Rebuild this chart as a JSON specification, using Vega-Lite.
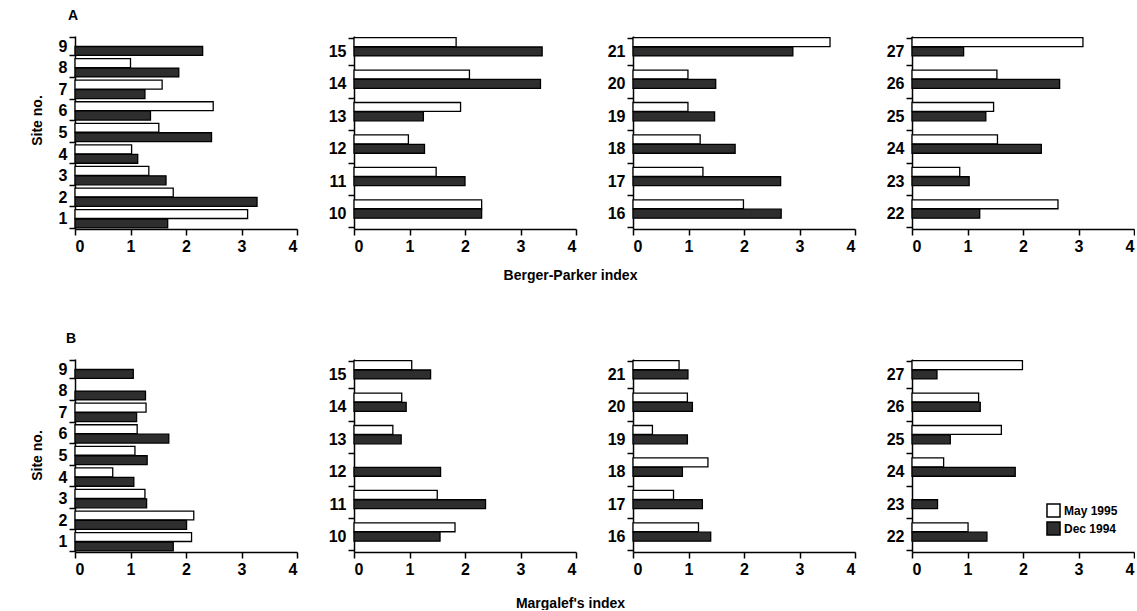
{
  "$schema": "https://vega.github.io/schema/vega-lite/v6.json",
  "padding": {"left": 30, "top": 9, "right": 0, "bottom": 0},
  "background": "white",
  "datasets": {
    "d": [
      {"idx": "BP", "panel": 1, "site": 9, "period": "Dec 1994", "v": 2.30},
      {"idx": "BP", "panel": 1, "site": 8, "period": "May 1995", "v": 1.00},
      {"idx": "BP", "panel": 1, "site": 8, "period": "Dec 1994", "v": 1.87},
      {"idx": "BP", "panel": 1, "site": 7, "period": "May 1995", "v": 1.57},
      {"idx": "BP", "panel": 1, "site": 7, "period": "Dec 1994", "v": 1.26},
      {"idx": "BP", "panel": 1, "site": 6, "period": "May 1995", "v": 2.49},
      {"idx": "BP", "panel": 1, "site": 6, "period": "Dec 1994", "v": 1.36},
      {"idx": "BP", "panel": 1, "site": 5, "period": "May 1995", "v": 1.51},
      {"idx": "BP", "panel": 1, "site": 5, "period": "Dec 1994", "v": 2.46},
      {"idx": "BP", "panel": 1, "site": 4, "period": "May 1995", "v": 1.02},
      {"idx": "BP", "panel": 1, "site": 4, "period": "Dec 1994", "v": 1.13},
      {"idx": "BP", "panel": 1, "site": 3, "period": "May 1995", "v": 1.33},
      {"idx": "BP", "panel": 1, "site": 3, "period": "Dec 1994", "v": 1.64},
      {"idx": "BP", "panel": 1, "site": 2, "period": "May 1995", "v": 1.77},
      {"idx": "BP", "panel": 1, "site": 2, "period": "Dec 1994", "v": 3.28},
      {"idx": "BP", "panel": 1, "site": 1, "period": "May 1995", "v": 3.11},
      {"idx": "BP", "panel": 1, "site": 1, "period": "Dec 1994", "v": 1.67},
      {"idx": "BP", "panel": 2, "site": 15, "period": "May 1995", "v": 1.84},
      {"idx": "BP", "panel": 2, "site": 15, "period": "Dec 1994", "v": 3.39},
      {"idx": "BP", "panel": 2, "site": 14, "period": "May 1995", "v": 2.08},
      {"idx": "BP", "panel": 2, "site": 14, "period": "Dec 1994", "v": 3.36},
      {"idx": "BP", "panel": 2, "site": 13, "period": "May 1995", "v": 1.92},
      {"idx": "BP", "panel": 2, "site": 13, "period": "Dec 1994", "v": 1.25},
      {"idx": "BP", "panel": 2, "site": 12, "period": "May 1995", "v": 0.98},
      {"idx": "BP", "panel": 2, "site": 12, "period": "Dec 1994", "v": 1.27},
      {"idx": "BP", "panel": 2, "site": 11, "period": "May 1995", "v": 1.48},
      {"idx": "BP", "panel": 2, "site": 11, "period": "Dec 1994", "v": 2.00},
      {"idx": "BP", "panel": 2, "site": 10, "period": "May 1995", "v": 2.30},
      {"idx": "BP", "panel": 2, "site": 10, "period": "Dec 1994", "v": 2.30},
      {"idx": "BP", "panel": 3, "site": 21, "period": "May 1995", "v": 3.55},
      {"idx": "BP", "panel": 3, "site": 21, "period": "Dec 1994", "v": 2.88},
      {"idx": "BP", "panel": 3, "site": 20, "period": "May 1995", "v": 0.99},
      {"idx": "BP", "panel": 3, "site": 20, "period": "Dec 1994", "v": 1.49},
      {"idx": "BP", "panel": 3, "site": 19, "period": "May 1995", "v": 0.99},
      {"idx": "BP", "panel": 3, "site": 19, "period": "Dec 1994", "v": 1.47},
      {"idx": "BP", "panel": 3, "site": 18, "period": "May 1995", "v": 1.21},
      {"idx": "BP", "panel": 3, "site": 18, "period": "Dec 1994", "v": 1.84},
      {"idx": "BP", "panel": 3, "site": 17, "period": "May 1995", "v": 1.26},
      {"idx": "BP", "panel": 3, "site": 17, "period": "Dec 1994", "v": 2.66},
      {"idx": "BP", "panel": 3, "site": 16, "period": "May 1995", "v": 1.99},
      {"idx": "BP", "panel": 3, "site": 16, "period": "Dec 1994", "v": 2.67},
      {"idx": "BP", "panel": 4, "site": 27, "period": "May 1995", "v": 3.08},
      {"idx": "BP", "panel": 4, "site": 27, "period": "Dec 1994", "v": 0.93},
      {"idx": "BP", "panel": 4, "site": 26, "period": "May 1995", "v": 1.53},
      {"idx": "BP", "panel": 4, "site": 26, "period": "Dec 1994", "v": 2.66},
      {"idx": "BP", "panel": 4, "site": 25, "period": "May 1995", "v": 1.47},
      {"idx": "BP", "panel": 4, "site": 25, "period": "Dec 1994", "v": 1.33},
      {"idx": "BP", "panel": 4, "site": 24, "period": "May 1995", "v": 1.54},
      {"idx": "BP", "panel": 4, "site": 24, "period": "Dec 1994", "v": 2.33},
      {"idx": "BP", "panel": 4, "site": 23, "period": "May 1995", "v": 0.86},
      {"idx": "BP", "panel": 4, "site": 23, "period": "Dec 1994", "v": 1.03},
      {"idx": "BP", "panel": 4, "site": 22, "period": "May 1995", "v": 2.63},
      {"idx": "BP", "panel": 4, "site": 22, "period": "Dec 1994", "v": 1.22},
      {"idx": "MG", "panel": 1, "site": 9, "period": "Dec 1994", "v": 1.05},
      {"idx": "MG", "panel": 1, "site": 8, "period": "Dec 1994", "v": 1.27},
      {"idx": "MG", "panel": 1, "site": 7, "period": "May 1995", "v": 1.28},
      {"idx": "MG", "panel": 1, "site": 7, "period": "Dec 1994", "v": 1.11},
      {"idx": "MG", "panel": 1, "site": 6, "period": "May 1995", "v": 1.12},
      {"idx": "MG", "panel": 1, "site": 6, "period": "Dec 1994", "v": 1.69},
      {"idx": "MG", "panel": 1, "site": 5, "period": "May 1995", "v": 1.08},
      {"idx": "MG", "panel": 1, "site": 5, "period": "Dec 1994", "v": 1.30},
      {"idx": "MG", "panel": 1, "site": 4, "period": "May 1995", "v": 0.68},
      {"idx": "MG", "panel": 1, "site": 4, "period": "Dec 1994", "v": 1.06},
      {"idx": "MG", "panel": 1, "site": 3, "period": "May 1995", "v": 1.26},
      {"idx": "MG", "panel": 1, "site": 3, "period": "Dec 1994", "v": 1.29},
      {"idx": "MG", "panel": 1, "site": 2, "period": "May 1995", "v": 2.14},
      {"idx": "MG", "panel": 1, "site": 2, "period": "Dec 1994", "v": 2.01},
      {"idx": "MG", "panel": 1, "site": 1, "period": "May 1995", "v": 2.10},
      {"idx": "MG", "panel": 1, "site": 1, "period": "Dec 1994", "v": 1.77},
      {"idx": "MG", "panel": 2, "site": 15, "period": "May 1995", "v": 1.04},
      {"idx": "MG", "panel": 2, "site": 15, "period": "Dec 1994", "v": 1.38},
      {"idx": "MG", "panel": 2, "site": 14, "period": "May 1995", "v": 0.86},
      {"idx": "MG", "panel": 2, "site": 14, "period": "Dec 1994", "v": 0.94},
      {"idx": "MG", "panel": 2, "site": 13, "period": "May 1995", "v": 0.70},
      {"idx": "MG", "panel": 2, "site": 13, "period": "Dec 1994", "v": 0.85},
      {"idx": "MG", "panel": 2, "site": 12, "period": "Dec 1994", "v": 1.56},
      {"idx": "MG", "panel": 2, "site": 11, "period": "May 1995", "v": 1.50},
      {"idx": "MG", "panel": 2, "site": 11, "period": "Dec 1994", "v": 2.37},
      {"idx": "MG", "panel": 2, "site": 10, "period": "May 1995", "v": 1.82},
      {"idx": "MG", "panel": 2, "site": 10, "period": "Dec 1994", "v": 1.55},
      {"idx": "MG", "panel": 3, "site": 21, "period": "May 1995", "v": 0.83},
      {"idx": "MG", "panel": 3, "site": 21, "period": "Dec 1994", "v": 0.99},
      {"idx": "MG", "panel": 3, "site": 20, "period": "May 1995", "v": 0.98},
      {"idx": "MG", "panel": 3, "site": 20, "period": "Dec 1994", "v": 1.07},
      {"idx": "MG", "panel": 3, "site": 19, "period": "May 1995", "v": 0.35},
      {"idx": "MG", "panel": 3, "site": 19, "period": "Dec 1994", "v": 0.98},
      {"idx": "MG", "panel": 3, "site": 18, "period": "May 1995", "v": 1.35},
      {"idx": "MG", "panel": 3, "site": 18, "period": "Dec 1994", "v": 0.89},
      {"idx": "MG", "panel": 3, "site": 17, "period": "May 1995", "v": 0.73},
      {"idx": "MG", "panel": 3, "site": 17, "period": "Dec 1994", "v": 1.25},
      {"idx": "MG", "panel": 3, "site": 16, "period": "May 1995", "v": 1.18},
      {"idx": "MG", "panel": 3, "site": 16, "period": "Dec 1994", "v": 1.40},
      {"idx": "MG", "panel": 4, "site": 27, "period": "May 1995", "v": 1.99},
      {"idx": "MG", "panel": 4, "site": 27, "period": "Dec 1994", "v": 0.45},
      {"idx": "MG", "panel": 4, "site": 26, "period": "May 1995", "v": 1.20},
      {"idx": "MG", "panel": 4, "site": 26, "period": "Dec 1994", "v": 1.23},
      {"idx": "MG", "panel": 4, "site": 25, "period": "May 1995", "v": 1.61},
      {"idx": "MG", "panel": 4, "site": 25, "period": "Dec 1994", "v": 0.69},
      {"idx": "MG", "panel": 4, "site": 24, "period": "May 1995", "v": 0.57},
      {"idx": "MG", "panel": 4, "site": 24, "period": "Dec 1994", "v": 1.86},
      {"idx": "MG", "panel": 4, "site": 23, "period": "Dec 1994", "v": 0.46},
      {"idx": "MG", "panel": 4, "site": 22, "period": "May 1995", "v": 1.01},
      {"idx": "MG", "panel": 4, "site": 22, "period": "Dec 1994", "v": 1.35}
    ]
  },
  "data": {"name": "d"},
  "bounds": "flush",
  "columns": 4,
  "spacing": {"row": 130, "column": 57},
  "resolve": {"scale": {"y": "independent", "x": "independent"}},
  "concat": [
    {
      "width": 222, "height": 193,
      "title": {"text": "A", "anchor": "start", "fontSize": 14, "fontWeight": "bold", "font": "Liberation Sans", "offset": 5, "dx": 38},
      "transform": [{"filter": "datum.idx == 'BP' && datum.panel == 1"}],
      "mark": {"type": "bar", "stroke": "black", "strokeWidth": 1.3},
      "encoding": {
        "x": {"field": "v", "type": "quantitative", "scale": {"domain": [0, 4]}, "axis": {"values": [0, 1, 2, 3, 4], "title": null}},
        "y": {"field": "site", "type": "ordinal", "sort": "descending", "scale": {"paddingInner": 0.15, "paddingOuter": 0.05}, "axis": {"tickBand": "extent", "title": "Site no.", "titleX": -38, "titleY": 84, "titleBaseline": "middle", "titleAlign": "center", "titleAngle": -90}},
        "yOffset": {"field": "period", "sort": ["May 1995", "Dec 1994"], "scale": {"paddingInner": 0.05}},
        "fill": {"field": "period", "type": "nominal", "scale": {"domain": ["May 1995", "Dec 1994"], "range": ["white", "#2e2e2e"]}, "title": null}
      }
    },
    {
      "width": 222, "height": 193,
      "transform": [{"filter": "datum.idx == 'BP' && datum.panel == 2"}],
      "mark": {"type": "bar", "stroke": "black", "strokeWidth": 1.3},
      "encoding": {
        "x": {"field": "v", "type": "quantitative", "scale": {"domain": [0, 4]}, "axis": {"values": [0, 1, 2, 3, 4], "title": "Berger-Parker index", "titleX": 216, "titleY": 46, "titleBaseline": "middle"}},
        "y": {"field": "site", "type": "ordinal", "sort": "descending", "scale": {"paddingInner": 0.15, "paddingOuter": 0.05}, "axis": {"tickBand": "extent", "title": null}},
        "yOffset": {"field": "period", "sort": ["May 1995", "Dec 1994"], "scale": {"paddingInner": 0.05}},
        "fill": {"field": "period", "type": "nominal", "scale": {"domain": ["May 1995", "Dec 1994"], "range": ["white", "#2e2e2e"]}, "title": null}
      }
    },
    {
      "width": 222, "height": 193,
      "transform": [{"filter": "datum.idx == 'BP' && datum.panel == 3"}],
      "mark": {"type": "bar", "stroke": "black", "strokeWidth": 1.3},
      "encoding": {
        "x": {"field": "v", "type": "quantitative", "scale": {"domain": [0, 4]}, "axis": {"values": [0, 1, 2, 3, 4], "title": null}},
        "y": {"field": "site", "type": "ordinal", "sort": "descending", "scale": {"paddingInner": 0.15, "paddingOuter": 0.05}, "axis": {"tickBand": "extent", "title": null}},
        "yOffset": {"field": "period", "sort": ["May 1995", "Dec 1994"], "scale": {"paddingInner": 0.05}},
        "fill": {"field": "period", "type": "nominal", "scale": {"domain": ["May 1995", "Dec 1994"], "range": ["white", "#2e2e2e"]}, "title": null}
      }
    },
    {
      "width": 222, "height": 193,
      "transform": [{"filter": "datum.idx == 'BP' && datum.panel == 4"}],
      "mark": {"type": "bar", "stroke": "black", "strokeWidth": 1.3},
      "encoding": {
        "x": {"field": "v", "type": "quantitative", "scale": {"domain": [0, 4]}, "axis": {"values": [0, 1, 2, 3, 4], "title": null}},
        "y": {"field": "site", "type": "ordinal", "sort": "descending", "scale": {"paddingInner": 0.15, "paddingOuter": 0.05}, "axis": {"tickBand": "extent", "title": null}},
        "yOffset": {"field": "period", "sort": ["May 1995", "Dec 1994"], "scale": {"paddingInner": 0.05}},
        "fill": {"field": "period", "type": "nominal", "scale": {"domain": ["May 1995", "Dec 1994"], "range": ["white", "#2e2e2e"]}, "title": null}
      }
    },
    {
      "width": 222, "height": 193,
      "title": {"text": "B", "anchor": "start", "fontSize": 14, "fontWeight": "bold", "font": "Liberation Sans", "offset": 5, "dx": 36},
      "transform": [{"filter": "datum.idx == 'MG' && datum.panel == 1"}],
      "mark": {"type": "bar", "stroke": "black", "strokeWidth": 1.3},
      "encoding": {
        "x": {"field": "v", "type": "quantitative", "scale": {"domain": [0, 4]}, "axis": {"values": [0, 1, 2, 3, 4], "title": null}},
        "y": {"field": "site", "type": "ordinal", "sort": "descending", "scale": {"paddingInner": 0.15, "paddingOuter": 0.05}, "axis": {"tickBand": "extent", "title": "Site no.", "titleX": -38, "titleY": 96, "titleBaseline": "middle", "titleAlign": "center", "titleAngle": -90}},
        "yOffset": {"field": "period", "sort": ["May 1995", "Dec 1994"], "scale": {"paddingInner": 0.05}},
        "fill": {"field": "period", "type": "nominal", "scale": {"domain": ["May 1995", "Dec 1994"], "range": ["white", "#2e2e2e"]}, "title": null}
      }
    },
    {
      "width": 222, "height": 193,
      "transform": [{"filter": "datum.idx == 'MG' && datum.panel == 2"}],
      "mark": {"type": "bar", "stroke": "black", "strokeWidth": 1.3},
      "encoding": {
        "x": {"field": "v", "type": "quantitative", "scale": {"domain": [0, 4]}, "axis": {"values": [0, 1, 2, 3, 4], "title": "Margalef's index", "titleX": 216, "titleY": 51, "titleBaseline": "middle"}},
        "y": {"field": "site", "type": "ordinal", "sort": "descending", "scale": {"paddingInner": 0.15, "paddingOuter": 0.05}, "axis": {"tickBand": "extent", "title": null}},
        "yOffset": {"field": "period", "sort": ["May 1995", "Dec 1994"], "scale": {"paddingInner": 0.05}},
        "fill": {"field": "period", "type": "nominal", "scale": {"domain": ["May 1995", "Dec 1994"], "range": ["white", "#2e2e2e"]}, "title": null}
      }
    },
    {
      "width": 222, "height": 193,
      "transform": [{"filter": "datum.idx == 'MG' && datum.panel == 3"}],
      "mark": {"type": "bar", "stroke": "black", "strokeWidth": 1.3},
      "encoding": {
        "x": {"field": "v", "type": "quantitative", "scale": {"domain": [0, 4]}, "axis": {"values": [0, 1, 2, 3, 4], "title": null}},
        "y": {"field": "site", "type": "ordinal", "sort": "descending", "scale": {"paddingInner": 0.15, "paddingOuter": 0.05}, "axis": {"tickBand": "extent", "title": null}},
        "yOffset": {"field": "period", "sort": ["May 1995", "Dec 1994"], "scale": {"paddingInner": 0.05}},
        "fill": {"field": "period", "type": "nominal", "scale": {"domain": ["May 1995", "Dec 1994"], "range": ["white", "#2e2e2e"]}, "title": null}
      }
    },
    {
      "width": 222, "height": 193,
      "transform": [{"filter": "datum.idx == 'MG' && datum.panel == 4"}],
      "mark": {"type": "bar", "stroke": "black", "strokeWidth": 1.3},
      "encoding": {
        "x": {"field": "v", "type": "quantitative", "scale": {"domain": [0, 4]}, "axis": {"values": [0, 1, 2, 3, 4], "title": null}},
        "y": {"field": "site", "type": "ordinal", "sort": "descending", "scale": {"paddingInner": 0.15, "paddingOuter": 0.05}, "axis": {"tickBand": "extent", "title": null}},
        "yOffset": {"field": "period", "sort": ["May 1995", "Dec 1994"], "scale": {"paddingInner": 0.05}},
        "fill": {"field": "period", "type": "nominal", "scale": {"domain": ["May 1995", "Dec 1994"], "range": ["white", "#2e2e2e"]}, "title": null}
      }
    }
  ],
  "config": {
    "view": {"stroke": null},
    "font": "Liberation Sans",
    "axis": {
      "grid": false,
      "domainColor": "black", "domainWidth": 1.5,
      "tickColor": "black", "tickWidth": 1.5, "tickSize": 6,
      "labelFont": "Liberation Sans", "labelFontWeight": "bold", "labelColor": "black", "labelFontSize": 16,
      "titleFont": "Liberation Sans", "titleFontWeight": "bold", "titleColor": "black", "titleFontSize": 14
    },
    "axisX": {"labelFontSize": 16, "labelPadding": 3},
    "axisY": {"labelFontSize": 16, "labelPadding": 2},
    "legend": {
      "orient": "none", "legendX": 971, "legendY": 467,
      "columns": 1, "rowPadding": -6,
      "symbolType": "square", "symbolSize": 170, "symbolStrokeColor": "black", "symbolStrokeWidth": 1.5,
      "labelFont": "Liberation Sans", "labelFontWeight": "bold", "labelFontSize": 12, "labelColor": "black", "labelOffset": 3
    }
  }
}
